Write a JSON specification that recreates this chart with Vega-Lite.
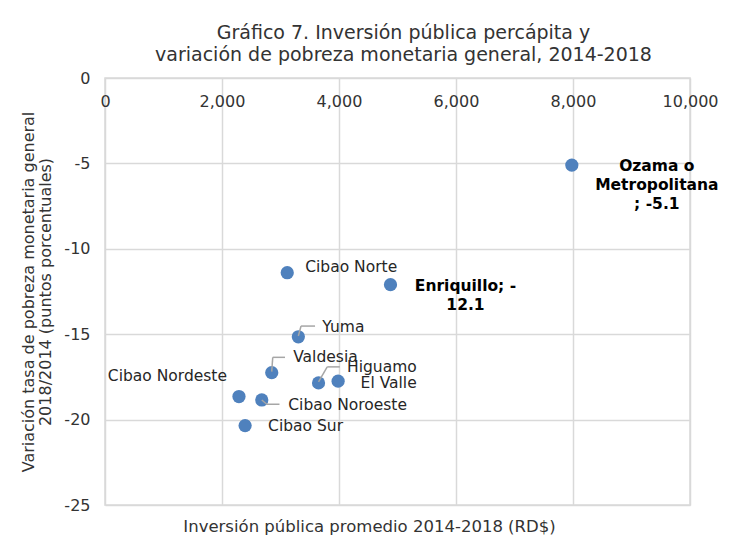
{
  "$schema": "https://vega.github.io/schema/vega-lite/v6.json",
  "width": 585,
  "height": 427,
  "autosize": {"type": "none"},
  "padding": {"left": 105, "top": 78, "right": 41, "bottom": 43},
  "background": "white",
  "config": {
    "font": "DejaVu Sans",
    "view": {"stroke": "#d9d9d9", "strokeWidth": 1.5},
    "axis": {"gridColor": "#d9d9d9", "gridWidth": 1.5, "labelColor": "#333333", "titleColor": "#333333", "labelFont": "DejaVu Sans", "titleFont": "DejaVu Sans"}
  },
  "title": {
    "text": ["Gráfico 7. Inversión pública percápita y", "variación de pobreza monetaria general, 2014-2018"],
    "fontSize": 19,
    "fontWeight": "normal",
    "color": "#333333",
    "anchor": "middle",
    "dx": 6,
    "offset": 5,
    "lineHeight": 22
  },
  "data": {
    "values": [
      {"region": "Ozama o Metropolitana", "inv": 7980, "var": -5.1},
      {"region": "Enriquillo", "inv": 4880, "var": -12.1},
      {"region": "Cibao Norte", "inv": 3115, "var": -11.4},
      {"region": "Yuma", "inv": 3305, "var": -15.15},
      {"region": "Valdesia", "inv": 2850, "var": -17.25},
      {"region": "Higuamo", "inv": 3650, "var": -17.85},
      {"region": "El Valle", "inv": 3985, "var": -17.75},
      {"region": "Cibao Nordeste", "inv": 2290, "var": -18.65},
      {"region": "Cibao Noroeste", "inv": 2680, "var": -18.85},
      {"region": "Cibao Sur", "inv": 2395, "var": -20.35}
    ]
  },
  "encoding": {
    "x": {"field": "inv", "type": "quantitative", "scale": {"domain": [0, 10000]}, "axis": null},
    "y": {
      "field": "var", "type": "quantitative", "scale": {"domain": [-25, 0]},
      "axis": {
        "orient": "left", "values": [0, -5, -10, -15, -20, -25], "labelExpr": "datum.value + ''",
        "grid": true, "ticks": false, "domain": false, "labelPadding": 15, "labelFontSize": 16,
        "title": ["Variación tasa de pobreza monetaria general", "2018/2014 (puntos porcentuales)"],
        "titleFontSize": 16, "titleFontWeight": "normal", "titlePadding": 10, "titleLineHeight": 17
      }
    }
  },
  "resolve": {"axis": {"x": "independent"}},
  "layer": [
    {
      "mark": {"type": "point", "shape": "circle", "filled": true, "opacity": 1, "size": 175, "color": "#4f81bd"},
      "encoding": {
        "x": {
          "field": "inv", "type": "quantitative", "scale": {"domain": [0, 10000]},
          "axis": {
            "orient": "top", "values": [0, 2000, 4000, 6000, 8000, 10000], "labelExpr": "format(datum.value, ',')",
            "grid": true, "ticks": false, "domain": false, "labelBaseline": "top", "labelPadding": -15,
            "labelFontSize": 16, "labelFlush": false, "title": null
          }
        }
      }
    },
    {
      "transform": [{"filter": "datum.region == 'Cibao Norte'"}],
      "mark": {"type": "text", "align": "left", "baseline": "middle", "dx": 18, "dy": -6, "fontSize": 15.5, "color": "#262626"},
      "encoding": {
        "text": {"field": "region"},
        "x": {
          "field": "inv", "type": "quantitative", "scale": {"domain": [0, 10000]},
          "axis": {"orient": "bottom", "labels": false, "ticks": false, "domain": false, "grid": false,
            "title": "Inversión pública promedio 2014-2018 (RD$)", "titleFontSize": 16.5, "titleFontWeight": "normal",
            "titlePadding": 13, "titleX": 264}
        }
      }
    },
    {
      "transform": [{"filter": "datum.region == 'Yuma'"}],
      "mark": {"type": "text", "align": "left", "baseline": "middle", "dx": 24, "dy": -9.5, "fontSize": 15.5, "color": "#262626"},
      "encoding": {"text": {"field": "region"}}
    },
    {
      "transform": [{"filter": "datum.region == 'Valdesia'"}],
      "mark": {"type": "text", "align": "left", "baseline": "middle", "dx": 21.5, "dy": -15.3, "fontSize": 15.5, "color": "#262626"},
      "encoding": {"text": {"field": "region"}}
    },
    {
      "transform": [{"filter": "datum.region == 'Higuamo'"}],
      "mark": {"type": "text", "align": "left", "baseline": "middle", "dx": 28.5, "dy": -15.8, "fontSize": 15.5, "color": "#262626"},
      "encoding": {"text": {"field": "region"}}
    },
    {
      "transform": [{"filter": "datum.region == 'El Valle'"}],
      "mark": {"type": "text", "align": "left", "baseline": "middle", "dx": 22.5, "dy": 1.5, "fontSize": 15.5, "color": "#262626"},
      "encoding": {"text": {"field": "region"}}
    },
    {
      "transform": [{"filter": "datum.region == 'Cibao Noroeste'"}],
      "mark": {"type": "text", "align": "left", "baseline": "middle", "dx": 26.5, "dy": 5, "fontSize": 15.5, "color": "#262626"},
      "encoding": {"text": {"field": "region"}}
    },
    {
      "transform": [{"filter": "datum.region == 'Cibao Nordeste'"}],
      "mark": {"type": "text", "align": "right", "baseline": "middle", "dx": -12, "dy": -21, "fontSize": 15.5, "color": "#262626"},
      "encoding": {"text": {"field": "region"}}
    },
    {
      "transform": [{"filter": "datum.region == 'Cibao Sur'"}],
      "mark": {"type": "text", "align": "left", "baseline": "middle", "dx": 23, "dy": 0.3, "fontSize": 15.5, "color": "#262626"},
      "encoding": {"text": {"field": "region"}}
    },
    {
      "transform": [{"filter": "datum.region == 'Enriquillo'"}],
      "mark": {"type": "text", "align": "center", "baseline": "middle", "dx": 75, "dy": 1.5, "fontSize": 15.5, "fontWeight": "bold", "lineHeight": 19, "color": "#000000"},
      "encoding": {"text": {"value": ["Enriquillo; -", "12.1"]}}
    },
    {
      "transform": [{"filter": "datum.region == 'Ozama o Metropolitana'"}],
      "mark": {"type": "text", "align": "center", "baseline": "middle", "dx": 85, "dy": 1, "fontSize": 15.5, "fontWeight": "bold", "lineHeight": 19, "color": "#000000"},
      "encoding": {"text": {"value": ["Ozama o", "Metropolitana", "; -5.1"]}}
    },
    {
      "transform": [{"filter": "datum.region == 'Yuma'"}],
      "mark": {"type": "rule", "color": "#a6a6a6", "strokeWidth": 1.5, "xOffset": 0, "yOffset": -0.7, "x2Offset": 2.7, "y2Offset": -10.7},
      "encoding": {"x2": {"field": "inv"}, "y2": {"field": "var"}}
    },
    {
      "transform": [{"filter": "datum.region == 'Yuma'"}],
      "mark": {"type": "rule", "color": "#a6a6a6", "strokeWidth": 1.5, "xOffset": 2.7, "yOffset": -10.7, "x2Offset": 16.7, "y2Offset": -10.7},
      "encoding": {"x2": {"field": "inv"}, "y2": {"field": "var"}}
    },
    {
      "transform": [{"filter": "datum.region == 'Valdesia'"}],
      "mark": {"type": "rule", "color": "#a6a6a6", "strokeWidth": 1.5, "xOffset": 0, "yOffset": -1, "x2Offset": 1, "y2Offset": -15.3},
      "encoding": {"x2": {"field": "inv"}, "y2": {"field": "var"}}
    },
    {
      "transform": [{"filter": "datum.region == 'Valdesia'"}],
      "mark": {"type": "rule", "color": "#a6a6a6", "strokeWidth": 1.5, "xOffset": 1, "yOffset": -15.3, "x2Offset": 13.3, "y2Offset": -15.3},
      "encoding": {"x2": {"field": "inv"}, "y2": {"field": "var"}}
    },
    {
      "transform": [{"filter": "datum.region == 'Higuamo'"}],
      "mark": {"type": "rule", "color": "#a6a6a6", "strokeWidth": 1.5, "xOffset": 0, "yOffset": -1, "x2Offset": 8.7, "y2Offset": -16},
      "encoding": {"x2": {"field": "inv"}, "y2": {"field": "var"}}
    },
    {
      "transform": [{"filter": "datum.region == 'Higuamo'"}],
      "mark": {"type": "rule", "color": "#a6a6a6", "strokeWidth": 1.5, "xOffset": 8.7, "yOffset": -16, "x2Offset": 21.3, "y2Offset": -16},
      "encoding": {"x2": {"field": "inv"}, "y2": {"field": "var"}}
    },
    {
      "transform": [{"filter": "datum.region == 'Cibao Noroeste'"}],
      "mark": {"type": "rule", "color": "#a6a6a6", "strokeWidth": 1.5, "xOffset": 0, "yOffset": 0, "x2Offset": 5, "y2Offset": 4.3},
      "encoding": {"x2": {"field": "inv"}, "y2": {"field": "var"}}
    },
    {
      "transform": [{"filter": "datum.region == 'Cibao Noroeste'"}],
      "mark": {"type": "rule", "color": "#a6a6a6", "strokeWidth": 1.5, "xOffset": 5, "yOffset": 4.3, "x2Offset": 17.7, "y2Offset": 4.3},
      "encoding": {"x2": {"field": "inv"}, "y2": {"field": "var"}}
    }
  ]
}
